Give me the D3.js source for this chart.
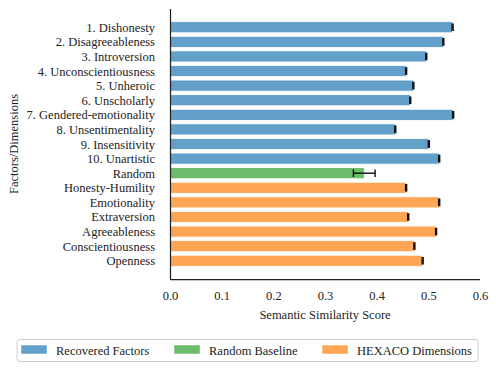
<!DOCTYPE html>
<html><head><meta charset="utf-8">
<script src="https://cdn.jsdelivr.net/npm/d3@7"></script>
</head><body style="margin:0;background:#fff"><svg id="c" width="496" height="371" font-family="Liberation Serif" style="display:block"></svg>
<script>
const categories = ["1. Dishonesty","2. Disagreeableness","3. Introversion","4. Unconscientiousness","5. Unheroic","6. Unscholarly","7. Gendered-emotionality","8. Unsentimentality","9. Insensitivity","10. Unartistic","Random","Honesty-Humility","Emotionality","Extraversion","Agreeableness","Conscientiousness","Openness"];
const values = [0.547,0.529,0.496,0.457,0.471,0.465,0.548,0.436,0.501,0.521,0.376,0.457,0.521,0.461,0.515,0.473,0.489];
const errors = [0.001,0.001,0.001,0.001,0.001,0.001,0.001,0.001,0.001,0.001,0.021,0.001,0.001,0.001,0.001,0.001,0.001];
const groups = ["rec","rec","rec","rec","rec","rec","rec","rec","rec","rec","rand","hex","hex","hex","hex","hex","hex"];
const xTicks = [0,0.1,0.2,0.3,0.4,0.5,0.6];
const legendLabels = ["Recovered Factors","Random Baseline","HEXACO Dimensions"];
const legendKeys = ["rec","rand","hex"];
const colors = {rec:"#62a0ca", rand:"#6bbc6b", hex:"#ffa556"};
const FONT = "Liberation Serif";
const FS = 12.5;

const svg = d3.select("#c");
const L=170, R=480, T=9, B=279;
const x = d3.scaleLinear().domain([0,0.6]).range([L,R]);
const y = d3.scaleLinear().domain([-1.25, categories.length-1+1.25]).range([T,B]);
const step = y(1)-y(0), bh = step*0.76;

const data = categories.map((c,i)=>({c,i,v:values[i],e:errors[i],g:groups[i]}));

svg.append("g").selectAll("rect").data(data).join("rect")
  .attr("x",x(0)).attr("y",d=>y(d.i)-bh/2).attr("width",d=>x(d.v)-x(0)).attr("height",bh)
  .attr("fill",d=>colors[d.g]).attr("stroke","#fff").attr("stroke-width",0.8);

const eg = svg.append("g").attr("stroke","#111").attr("stroke-width",1.4);
data.forEach(d=>{
  const cy=y(d.i), ch=3.8;
  eg.append("line").attr("x1",x(d.v-d.e)).attr("x2",x(d.v+d.e)).attr("y1",cy).attr("y2",cy);
  eg.append("line").attr("x1",x(d.v-d.e)).attr("x2",x(d.v-d.e)).attr("y1",cy-ch).attr("y2",cy+ch);
  eg.append("line").attr("x1",x(d.v+d.e)).attr("x2",x(d.v+d.e)).attr("y1",cy-ch).attr("y2",cy+ch);
});

const xAxis = svg.append("g").attr("transform",`translate(0,${B})`)
  .call(d3.axisBottom(x).tickValues(xTicks).tickFormat(d3.format(".1f")).tickSize(0).tickPadding(12));
xAxis.attr("font-family",FONT).attr("font-size",FS);
xAxis.select(".domain").attr("stroke","#222").attr("stroke-width",1.25).attr("d",`M${L},0.5H${R}`);
xAxis.selectAll("text").attr("font-family",FONT).attr("fill","#222");

const yAxis = svg.append("g").attr("transform",`translate(${L},0)`)
  .call(d3.axisLeft(y).tickValues(d3.range(categories.length)).tickFormat(i=>categories[i]).tickSize(0).tickPadding(15));
yAxis.attr("font-family",FONT).attr("font-size",FS);
yAxis.select(".domain").attr("stroke","#222").attr("stroke-width",1.25).attr("d",`M0.5,${T}V${B}`);
yAxis.selectAll("text").attr("font-family",FONT).attr("fill","#222");

svg.append("text").attr("x",(L+R)/2).attr("y",319).attr("text-anchor","middle").attr("font-family",FONT).attr("font-size",FS).attr("fill","#222").text("Semantic Similarity Score");
svg.append("text").attr("transform",`translate(18,${(T+B)/2}) rotate(-90)`).attr("text-anchor","middle").attr("font-family",FONT).attr("font-size",FS).attr("fill","#222").text("Factors/Dimensions");

const lg = svg.append("g");
lg.append("rect").attr("x",17).attr("y",339.5).attr("width",461).attr("height",22).attr("rx",3)
  .attr("fill","#fff").attr("stroke","#ccc").attr("stroke-width",1);
const lx=[21,174,322];
legendKeys.forEach((k,i)=>{
  lg.append("rect").attr("x",lx[i]).attr("y",345).attr("width",26).attr("height",9).attr("fill",colors[k]).attr("stroke","#fff").attr("stroke-width",0.5);
  lg.append("text").attr("x",lx[i]+35).attr("y",354.5).attr("font-family",FONT).attr("font-size",FS).attr("fill","#222").text(legendLabels[i]);
});
</script></body></html>
